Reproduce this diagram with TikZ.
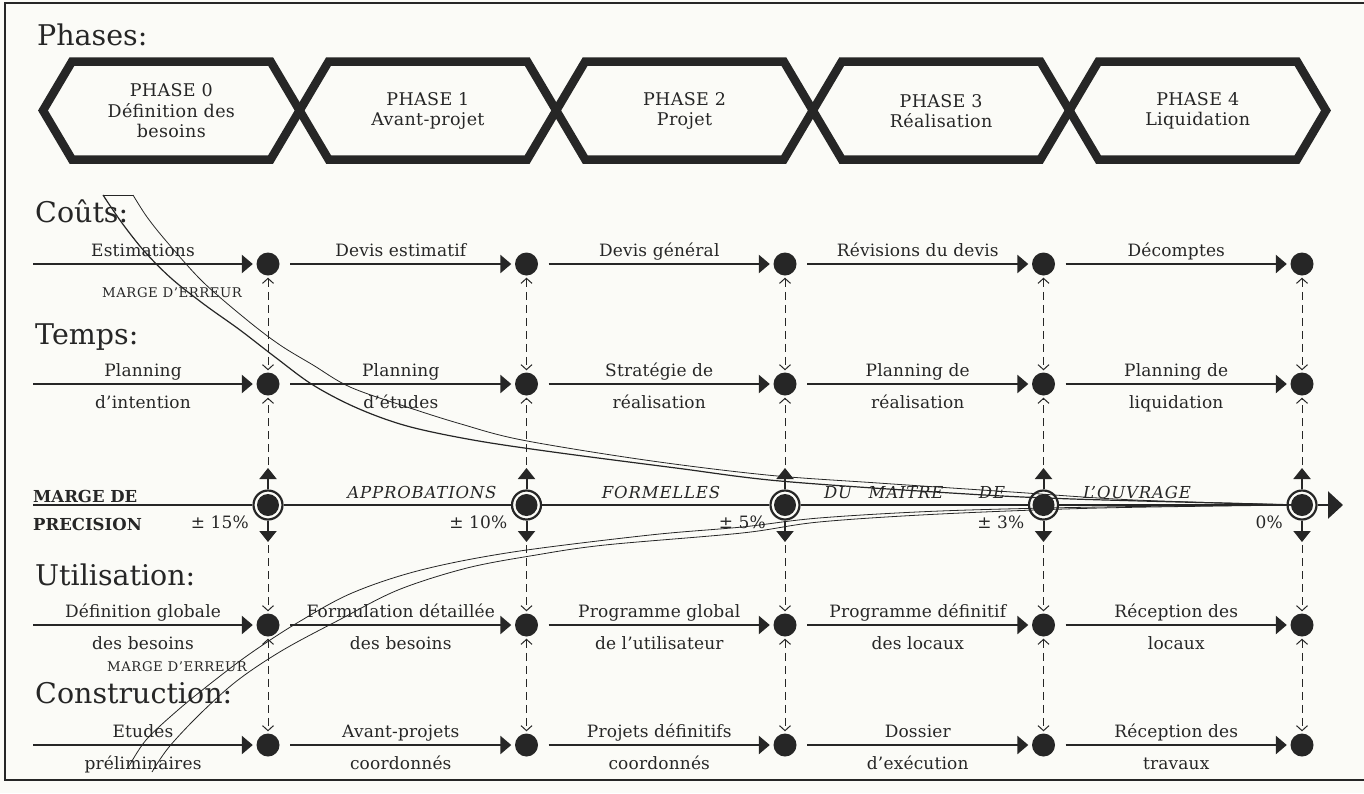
\documentclass[tikz,border=0pt]{standalone}
\usepackage{fontspec}
\setmainfont{DejaVu Serif}
\usetikzlibrary{arrows.meta,calc}
\definecolor{ink}{RGB}{38,38,38}
\definecolor{paper}{RGB}{251,251,247}
\newcommand\hdfont{\fontsize{28.5}{31}\selectfont}
\newcommand\lblfont{\fontsize{17}{20}\selectfont\addfontfeatures{LetterSpace=1}}
\newcommand\phfont{\fontsize{17.5}{20.5}\selectfont\addfontfeatures{LetterSpace=2}}
\newcommand\itlfont{\fontsize{16.5}{20}\selectfont\itshape\addfontfeatures{LetterSpace=5}}
\newcommand\capsfont{\fontsize{13.3}{15}\selectfont\addfontfeatures{LetterSpace=4}}
\newcommand\precfont{\fontsize{16.5}{20}\selectfont\bfseries}
\begin{document}
\begin{tikzpicture}[x=1pt,y=-1pt,
  every node/.style={text=ink},
  head/.style={anchor=base west, inner sep=0pt, font=\hdfont},
  lbl/.style={anchor=base, inner sep=0pt, font=\lblfont},
  phtext/.style={align=center, inner sep=0pt, font=\phfont},
  itl/.style={anchor=base, inner sep=0pt, font=\itlfont},
  caps/.style={anchor=base west, inner sep=0pt, font=\capsfont},
  precl/.style={anchor=base west, inner sep=0pt, font=\precfont},
  pct/.style={anchor=base east, inner sep=0pt, font=\lblfont},
  hexa/.style={draw=ink, line width=8.5pt, line join=miter, miter limit=10},
  dot/.style={circle, fill=ink, minimum size=23pt, inner sep=0pt},
  ring/.style={circle, draw=ink, line width=2.2pt, fill=paper, minimum size=29pt, inner sep=0pt,
    path picture={\fill[ink] (path picture bounding box.center) circle (11pt);}},
  flow0/.style={draw=ink, line width=2.5pt, -{Triangle[length=11pt,width=18pt]}, shorten >=3.5pt},
  flow/.style={flow0, shorten <=10.5pt},
  pline/.style={draw=ink, line width=2.5pt},
  stem/.style={draw=ink, line width=2pt, -{Triangle[length=11pt,width=17pt]}},
  dl1/.style={draw=ink, line width=1pt, dash pattern=on 8pt off 5pt,
    -{Straight Barb[length=5pt,width=11pt]}, shorten <=3pt, shorten >=2pt},
  dl2/.style={draw=ink, line width=1pt, dash pattern=on 8pt off 5pt,
    {Straight Barb[length=5pt,width=11pt]}-{Straight Barb[length=5pt,width=11pt]},
    shorten <=2pt, shorten >=2pt},
  hand/.style={draw=ink, line width=0.8pt},
  handthick/.style={draw=ink, line width=1.2pt}
]
\fill[paper] (0,0) rectangle (1364,793);
\useasboundingbox (0,0) rectangle (1364,793);

% open frame (cut at the right edge)
\draw[ink, line width=1.4pt] (1364,3) -- (5,3) -- (5,780) -- (1364,780);

% ---------- phases ----------
\node[head] (hphases) at (37,45) {Phases:};
\foreach \k/\txt in {0/{PHASE 0\\Définition des\\besoins},
                     1/{PHASE 1\\Avant-projet},
                     2/{PHASE 2\\Projet},
                     3/{PHASE 3\\Réalisation},
                     4/{PHASE 4\\Liquidation}} {
  \pgfmathsetmacro\hl{43+256.6*\k}
  \pgfmathsetmacro\hr{\hl+256.6}
  \draw[hexa] (\hl,110.5) -- (\hl+29,61.5) -- (\hr-29,61.5) -- (\hr,110.5)
              -- (\hr-29,159.5) -- (\hl+29,159.5) -- cycle;
  \node[phtext] (ph\k) at ({(\hl+\hr)/2},111) {\txt};
}

% ---------- headings ----------
\node[head] (hcouts) at (35,222) {Coûts:};
\node[head] (htemps) at (35,344) {Temps:};
\node[head] (hutil)  at (35,585) {Utilisation:};
\node[head] (hconst) at (35,703) {Construction:};
\node[caps] (me1) at (102,297) {MARGE D’ERREUR};
\node[caps] (me2) at (107,671) {MARGE D’ERREUR};
\node[precl] (mdp1) at (33,502) {MARGE DE};
\node[precl] (mdp2) at (33,530) {PRECISION};

% ---------- milestones ----------
\foreach \k in {0,...,4} {
  \pgfmathsetmacro\xx{268+258.5*\k}
  \node[dot]  (a\k) at (\xx,264) {};
  \node[dot]  (b\k) at (\xx,384) {};
  \node[ring] (p\k) at (\xx,505) {};
  \node[dot]  (u\k) at (\xx,625) {};
  \node[dot]  (v\k) at (\xx,745) {};
  \coordinate (pu\k) at (\xx,468);
  \coordinate (pd\k) at (\xx,542);
}
\coordinate (sa) at (33,264);
\coordinate (sb) at (33,384);
\coordinate (sp) at (33,505);
\coordinate (su) at (33,625);
\coordinate (sv) at (33,745);
\coordinate (pend) at (1343,505);

% solid flows along each row
\foreach \r in {a,b,u,v} {
  \draw[flow0] (s\r) -- (\r0);
  \foreach \k in {1,...,4} {
    \pgfmathtruncatemacro\km{\k-1}
    \draw[flow] (\r\km) -- (\r\k);
  }
}

% precision line with its rings
\draw[pline] (sp) -- (p0);
\foreach \k in {1,...,4} {
  \pgfmathtruncatemacro\km{\k-1}
  \draw[pline] (p\km) -- (p\k);
}
\draw[pline, -{Triangle[length=15pt,width=27pt]}] (p4) -- (pend);

% vertical links
\foreach \k in {0,...,4} {
  \draw[stem] (p\k) -- (pu\k);
  \draw[stem] (p\k) -- (pd\k);
  \draw[dl2] (a\k) -- (b\k);
  \draw[dl1] (pu\k) -- (b\k);
  \draw[dl1] (pd\k) -- (u\k);
  \draw[dl2] (u\k) -- (v\k);
}

% ---------- row labels ----------
\foreach \k/\t in {0/Estimations, 1/Devis estimatif, 2/Devis général,
                   3/Révisions du devis, 4/Décomptes} {
  \pgfmathsetmacro\mx{\k==0 ? 143 : 268+258.5*\k-125.75}
  \node[lbl] (la\k) at (\mx,256) {\t};
}
\foreach \k/\t/\s in {0/Planning/d’intention, 1/Planning/d’études,
                      2/Stratégie de/réalisation, 3/Planning de/réalisation,
                      4/Planning de/liquidation} {
  \pgfmathsetmacro\mx{\k==0 ? 143 : 268+258.5*\k-125.75}
  \node[lbl] (lbt\k) at (\mx,376) {\t};
  \node[lbl] (lbb\k) at (\mx,408) {\s};
}
\foreach \k/\t/\s in {0/Définition globale/des besoins, 1/Formulation détaillée/des besoins,
                      2/Programme global/de l’utilisateur, 3/Programme définitif/des locaux,
                      4/Réception des/locaux} {
  \pgfmathsetmacro\mx{\k==0 ? 143 : 268+258.5*\k-125.75}
  \node[lbl] (lut\k) at (\mx,617) {\t};
  \node[lbl] (lub\k) at (\mx,649) {\s};
}
\foreach \k/\t/\s in {0/Etudes/préliminaires, 1/Avant-projets/coordonnés,
                      2/Projets définitifs/coordonnés, 3/Dossier/d’exécution,
                      4/Réception des/travaux} {
  \pgfmathsetmacro\mx{\k==0 ? 143 : 268+258.5*\k-125.75}
  \node[lbl] (lvt\k) at (\mx,737) {\t};
  \node[lbl] (lvb\k) at (\mx,769) {\s};
}

% precision labels
\foreach \k/\t in {0/± 15\%, 1/± 10\%, 2/± 5\%, 3/± 3\%, 4/0\%} {
  \node[pct] (pc\k) at ({268+258.5*\k-19},528) {\t};
}
\node[itl] (it1) at (422,498) {APPROBATIONS};
\node[itl] (it2) at (661,498) {FORMELLES};
\node[itl] (it3) at (838,498) {DU};
\node[itl] (it4) at (906,498) {MAITRE};
\node[itl] (it5) at (992,498) {DE};
\node[itl] (it6) at (1137,498) {L’OUVRAGE};

% ---------- hand-drawn error-margin funnel ----------
\draw[hand] (103,195) -- (133,195);
\draw[hand] plot[smooth, tension=0.55] coordinates {(133,195) (147,217) (167,242) (203,282)
  (247,320) (280,345) (313,365) (350,387) (407,407) (461,424) (522,440) (645,460)
  (767,475) (878,483) (1012,492) (1135,500) (1300,505)};
\draw[handthick] plot[smooth, tension=0.55] coordinates {(103,195) (122,223) (145,252)
  (172,279) (205,305) (240,330) (275,357) (313,385) (357,408) (407,426) (473,440)
  (553,452) (676,468) (780,481) (951,493) (1073,499) (1300,505)};
\draw[hand] plot[smooth, tension=0.55] coordinates {(128,768) (146,740) (178,710) (215,680)
  (251,653) (297,623) (352,593) (421,570) (513,552) (650,535) (742,527) (819,518)
  (940,511) (1100,507) (1300,505)};
\draw[hand] plot[smooth, tension=0.55] coordinates {(152,772) (169,747) (201,713) (238,680)
  (283,650) (339,620) (398,590) (467,568) (536,555) (605,545) (742,533) (819,522)
  (940,514) (1100,508) (1300,505)};
\end{tikzpicture}
\end{document}
